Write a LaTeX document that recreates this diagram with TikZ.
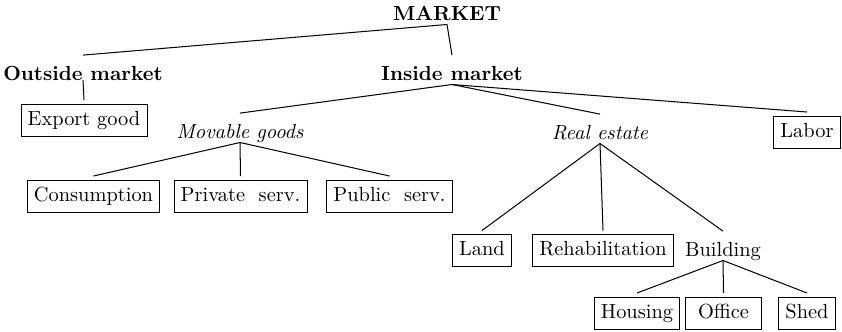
\documentclass[tikz,border=0pt]{standalone}
\usetikzlibrary{positioning}
\begin{document}
\begin{tikzpicture}[x=0.49pt,y=-0.49pt,
      cat/.style={inner sep=0pt,text height=12pt,text depth=2pt,anchor=base},
      leaf/.style={draw,inner xsep=3.3pt,inner ysep=3.3pt,outer sep=2pt,text height=7pt,text depth=2pt},
      branch/.style={line width=0.5pt}]
    \useasboundingbox (0,0) rectangle (842,331);
    \node[cat,font=\bfseries] (mkt) at (447,20) {MARKET};
    \node[cat,font=\bfseries] (out) at (83,80) {Outside market};
    \node[cat,font=\bfseries] (ins) at (452,80) {Inside market};
    \node[leaf] (exp) at (84,120) {Export good};
    \node[cat,font=\itshape] (mov) at (240,138) {Movable goods};
    \node[cat,font=\itshape] (real) at (600,139) {Real estate};
    \node[leaf] (lab) at (807,132) {Labor};
    \node[leaf] (cons) at (93.5,196) {Consumption};
    \node[leaf] (priv) at (240.5,196) {Private\ \ serv.};
    \node[leaf] (pub) at (389.5,196) {Public\ \ serv.};
    \node[leaf] (land) at (482,250.5) {Land};
    \node[leaf] (reh) at (603,250.5) {Rehabilitation};
    \node[cat] (bld) at (723,256) {Building};
    \node[leaf] (hous) at (637,313) {Housing};
    \node[leaf,minimum width=37.5pt] (off) at (723.5,313) {Office};
    \node[leaf] (shed) at (807,313) {Shed};
    \foreach \c in {out,ins} \draw[branch] (mkt.south) -- (\c.north);
    \draw[branch] (out.base) -- (exp.north);
    \foreach \c in {mov,real,lab} \draw[branch] (ins.south) -- (\c.north);
    \foreach \c in {cons,priv,pub} \draw[branch] (mov.south) -- (\c.north);
    \foreach \c in {land,reh,bld} \draw[branch] (real.south) -- (\c.north);
    \foreach \c in {hous,off,shed} \draw[branch] (bld.south) -- (\c.north);
  \end{tikzpicture}
\end{document}
